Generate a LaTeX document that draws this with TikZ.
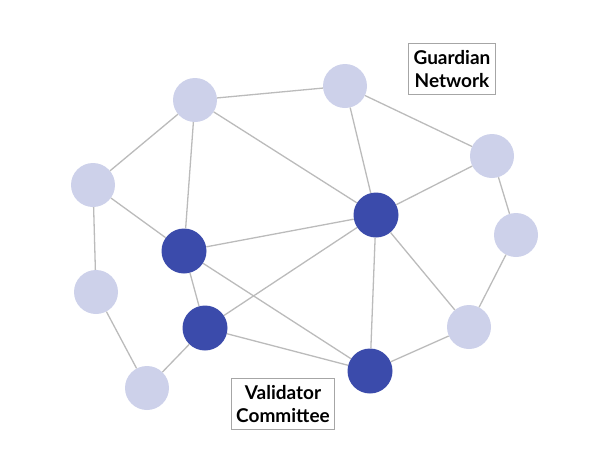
\documentclass[tikz,border=0pt]{standalone}
\usepackage{fontspec}
\setmainfont{Lato}
\usetikzlibrary{positioning}
\definecolor{lightnode}{HTML}{CDD1EA}
\definecolor{darknode}{HTML}{3B4BAB}
\definecolor{edgegray}{HTML}{BBBBBB}

\begin{document}
\begin{tikzpicture}[x=1pt,y=-1pt]
	\tikzstyle{guard}=[circle, fill=lightnode, minimum size=44pt, inner sep=0pt]
	\tikzstyle{valid}=[circle, fill=darknode, minimum size=45pt, inner sep=0pt]
	\tikzstyle{link}=[draw=edgegray, line width=1.3pt]
	\tikzstyle{tag}=[draw=gray!70, line width=1pt, fill=white, align=center, inner xsep=5pt, inner ysep=7pt, font=\fontsize{19}{23}\selectfont\bfseries]

	\useasboundingbox (0,0) rectangle (590,456);

	% guardian network
	\node[guard] (g1) at (195,100) {};
	\node[guard] (g2) at (345,86) {};
	\node[guard] (g3) at (93,185) {};
	\node[guard] (g4) at (492,156) {};
	\node[guard] (g5) at (516,235) {};
	\node[guard] (g6) at (96,292) {};
	\node[guard] (g7) at (469,327) {};
	\node[guard] (g8) at (147,388) {};

	% validator committee
	\node[valid] (v1) at (184,251) {};
	\node[valid] (v2) at (376,215) {};
	\node[valid] (v3) at (205,328) {};
	\node[valid] (v4) at (370,371) {};

	\draw[link] (g1) -- (g2);
	\draw[link] (g1) -- (g3);
	\draw[link] (g1) -- (v1);
	\draw[link] (g1) -- (v2);
	\draw[link] (g2) -- (v2);
	\draw[link] (g2) -- (g4);
	\draw[link] (g3) -- (g6);
	\draw[link] (g3) -- (v1);
	\draw[link] (g4) -- (v2);
	\draw[link] (g4) -- (g5);
	\draw[link] (g5) -- (g7);
	\draw[link] (g6) -- (g8);
	\draw[link] (g8) -- (v3);
	\draw[link] (v1) -- (v2);
	\draw[link] (v1) -- (v3);
	\draw[link] (v1) -- (v4);
	\draw[link] (v3) -- (v2);
	\draw[link] (v3) -- (v4);
	\draw[link] (v2) -- (v4);
	\draw[link] (v2) -- (g7);
	\draw[link] (v4) -- (g7);

	\node[tag] (gn) at (452,69) {Guardian\\Network};
	\node[tag] (vc) at (283,404) {Validator\\Committee};
\end{tikzpicture}
\end{document}
